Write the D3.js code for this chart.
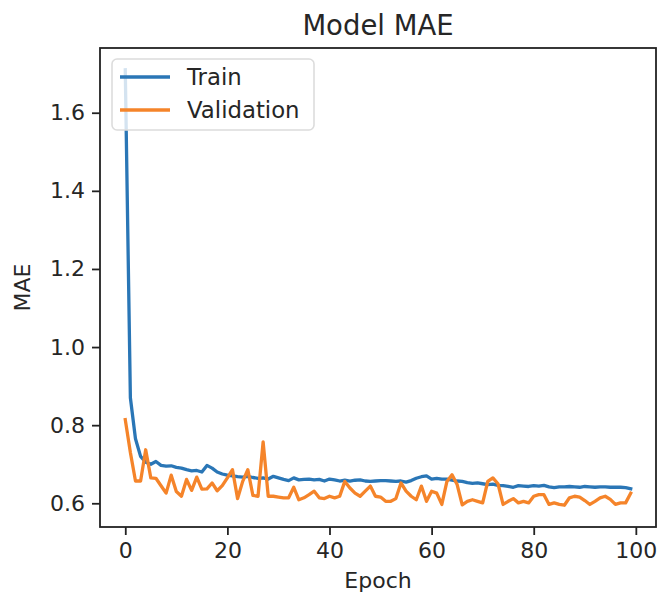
<!DOCTYPE html>
<html><head><meta charset="utf-8">
<script src="https://cdn.jsdelivr.net/npm/d3@7/dist/d3.min.js"></script>
<style>body{margin:0;background:#fff}svg{display:block}text{font-family:"DejaVu Sans",sans-serif;fill:#262626}</style>
</head><body><svg id="c" width="658" height="594"></svg>
<script>
const title = "Model MAE";
const xLabel = "Epoch";
const yLabel = "MAE";
const seriesNames = ["Train", "Validation"];
const xTicks = [0, 20, 40, 60, 80, 100];
const yTicks = [0.6, 0.8, 1.0, 1.2, 1.4, 1.6];
const train = [1.71,0.87,0.765,0.72,0.705,0.70,0.707,0.697,0.695,0.696,
0.692,0.69,0.686,0.683,0.684,0.68,0.697,0.69,0.68,0.675,
0.672,0.67,0.668,0.667,0.669,0.666,0.664,0.665,0.662,0.669,
0.665,0.661,0.658,0.665,0.66,0.661,0.662,0.66,0.661,0.657,
0.662,0.66,0.657,0.659,0.657,0.659,0.66,0.657,0.656,0.657,
0.658,0.658,0.657,0.656,0.657,0.654,0.658,0.664,0.668,0.67,
0.662,0.664,0.662,0.662,0.659,0.657,0.656,0.653,0.651,0.652,
0.65,0.648,0.649,0.646,0.645,0.643,0.641,0.645,0.644,0.643,
0.645,0.644,0.646,0.642,0.64,0.642,0.642,0.643,0.642,0.641,
0.643,0.642,0.641,0.642,0.642,0.641,0.641,0.641,0.64,0.637];
const validation = [0.814,0.73,0.657,0.657,0.737,0.665,0.664,0.645,0.626,0.672,
0.63,0.618,0.661,0.633,0.667,0.636,0.637,0.652,0.632,0.645,
0.665,0.686,0.612,0.656,0.686,0.62,0.618,0.757,0.618,0.618,
0.616,0.614,0.614,0.641,0.609,0.614,0.622,0.631,0.614,0.612,
0.618,0.614,0.618,0.656,0.639,0.626,0.618,0.631,0.644,0.618,
0.616,0.605,0.605,0.612,0.652,0.631,0.618,0.609,0.644,0.605,
0.631,0.626,0.597,0.656,0.673,0.648,0.596,0.605,0.609,0.605,
0.601,0.656,0.665,0.65,0.597,0.605,0.612,0.601,0.605,0.601,
0.618,0.622,0.622,0.597,0.601,0.597,0.595,0.614,0.618,0.616,
0.607,0.597,0.605,0.614,0.618,0.61,0.597,0.601,0.601,0.626];
const colors = ["#2a76b6", "#f5842a"];

const svg = d3.select("#c");
const L = 100, R = 656, T = 48, B = 527;
const n = train.length;
const xPad = 0.05 * (n - 1);
const x = d3.scaleLinear().domain([-xPad, n - 1 + xPad]).range([L, R]);
const all = train.concat(validation);
const ymin = d3.min(all), ymax = d3.max(all), yPad = 0.05 * (ymax - ymin);
const y = d3.scaleLinear().domain([ymin - yPad, ymax + yPad]).range([B, T]);

const line = d3.line().x((d, i) => x(i)).y(d => y(d));
svg.append("clipPath").attr("id", "clp").append("rect")
  .attr("x", L).attr("y", T).attr("width", R - L).attr("height", B - T);
const g = svg.append("g").attr("clip-path", "url(#clp)");
[train, validation].forEach((s, k) => {
  g.append("path").datum(s).attr("d", line).attr("fill", "none")
    .attr("stroke", colors[k]).attr("stroke-width", 3.3)
    .attr("stroke-linejoin", "round").attr("stroke-linecap", "square");
});

const xAxis = d3.axisBottom(x).tickValues(xTicks).tickSize(8).tickPadding(7).tickFormat(d3.format("d"));
const yAxis = d3.axisLeft(y).tickValues(yTicks).tickSize(8).tickPadding(7).tickFormat(d3.format(".1f"));
const gx = svg.append("g").attr("transform", `translate(0,${B})`).call(xAxis);
const gy = svg.append("g").attr("transform", `translate(${L},0)`).call(yAxis);
[gx, gy].forEach(a => {
  a.select(".domain").remove();
  a.selectAll(".tick line").attr("stroke", "#222").attr("stroke-width", 1.8);
  a.selectAll(".tick text").attr("font-size", 22).attr("fill", "#2b2b2b")
    .attr("font-family", "DejaVu Sans, sans-serif");
});
svg.append("rect").attr("x", L).attr("y", T).attr("width", R - L).attr("height", B - T)
  .attr("fill", "none").attr("stroke", "#222").attr("stroke-width", 1.8);

svg.append("text").attr("x", (L + R) / 2).attr("y", 35).attr("text-anchor", "middle")
  .attr("font-size", 27.5).text(title);
svg.append("text").attr("x", (L + R) / 2).attr("y", 588).attr("text-anchor", "middle")
  .attr("font-size", 22).text(xLabel);
svg.append("text").attr("transform", `translate(30,${(T + B) / 2}) rotate(-90)`)
  .attr("text-anchor", "middle").attr("font-size", 22).text(yLabel);

const lg = svg.append("g");
lg.append("rect").attr("x", 112).attr("y", 59).attr("width", 202).attr("height", 71)
  .attr("rx", 5).attr("fill", "#fff").attr("fill-opacity", 0.8)
  .attr("stroke", "#dcdcdc").attr("stroke-width", 1.6);
seriesNames.forEach((nm, k) => {
  const yy = 77 + k * 33;
  lg.append("line").attr("x1", 120).attr("x2", 170).attr("y1", yy).attr("y2", yy)
    .attr("stroke", colors[k]).attr("stroke-width", 3.3);
  lg.append("text").attr("x", 187).attr("y", yy + 8).attr("font-size", 22.8).text(nm);
});
</script></body></html>
